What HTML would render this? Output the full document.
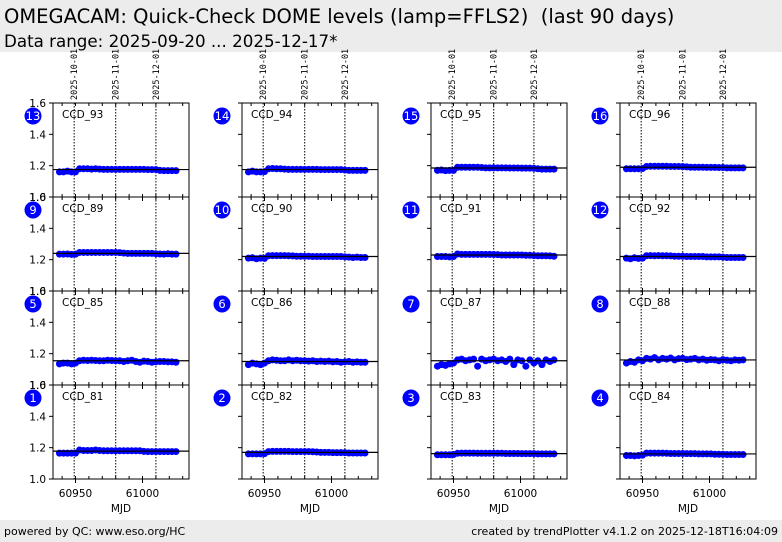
<!DOCTYPE html>
<html><head><meta charset="utf-8"><style>
body{margin:0;width:782px;height:542px;background:#fff;font-family:"DejaVu Sans","Liberation Sans",sans-serif;overflow:hidden;position:relative}
#hdr{position:absolute;left:0;top:0;width:782px;height:52px;background:#ececec}
#ftr{position:absolute;left:0;top:520px;width:782px;height:22px;background:#ececec;font-size:11px}
</style></head><body>
<div id="hdr">
<div style="position:absolute;left:4px;top:5px;font-size:19.5px;white-space:pre">OMEGACAM: Quick-Check DOME levels (lamp=FFLS2)  (last 90 days)</div>
<div style="position:absolute;left:4px;top:31px;font-size:16.7px">Data range: 2025-09-20 ... 2025-12-17*</div>
</div>
<svg id="c" width="782" height="520" style="position:absolute;left:0;top:0;font-family:'DejaVu Sans',sans-serif"></svg>
<div id="ftr">
<span style="position:absolute;left:4px;top:5px">powered by QC: www.eso.org/HC</span>
<span style="position:absolute;right:4px;top:5px">created by trendPlotter v4.1.2 on 2025-12-18T16:04:09</span>
</div>
<script>
const mjdStart=60938, mjdStep=3;
const ccdNames=["CCD_93","CCD_94","CCD_95","CCD_96","CCD_89","CCD_90","CCD_91","CCD_92","CCD_85","CCD_86","CCD_87","CCD_88","CCD_81","CCD_82","CCD_83","CCD_84"];
const panelNums=[13,14,15,16,9,10,11,12,5,6,7,8,1,2,3,4];
const medians=[1.175,1.175,1.185,1.19,1.24,1.22,1.23,1.22,1.155,1.15,1.155,1.16,1.178,1.17,1.162,1.16];
const v93=[1.16,1.16,1.165,1.16,1.16,1.18,1.18,1.18,1.178,1.18,1.178,1.176,1.176,1.176,1.176,1.176,1.176,1.176,1.176,1.176,1.176,1.176,1.175,1.175,1.175,1.17,1.168,1.168,1.168,1.168];
const v94=[1.16,1.165,1.16,1.16,1.162,1.18,1.182,1.18,1.18,1.178,1.176,1.176,1.176,1.176,1.176,1.176,1.176,1.176,1.175,1.175,1.175,1.175,1.175,1.175,1.172,1.17,1.17,1.17,1.17,1.17];
const v95=[1.17,1.172,1.168,1.17,1.17,1.19,1.19,1.19,1.19,1.19,1.19,1.188,1.186,1.186,1.186,1.186,1.186,1.186,1.185,1.185,1.185,1.184,1.184,1.184,1.183,1.18,1.178,1.178,1.178,1.178];
const v96=[1.18,1.18,1.18,1.18,1.182,1.195,1.196,1.196,1.196,1.196,1.196,1.195,1.195,1.195,1.194,1.192,1.19,1.19,1.19,1.19,1.189,1.189,1.189,1.188,1.188,1.186,1.186,1.186,1.186,1.186];
const v89=[1.235,1.235,1.236,1.234,1.235,1.246,1.246,1.246,1.246,1.246,1.246,1.246,1.246,1.246,1.246,1.245,1.242,1.24,1.24,1.24,1.24,1.24,1.24,1.24,1.238,1.236,1.235,1.238,1.235,1.235];
const v90=[1.21,1.212,1.206,1.21,1.208,1.225,1.226,1.226,1.226,1.226,1.225,1.224,1.222,1.222,1.222,1.222,1.22,1.22,1.22,1.22,1.22,1.22,1.22,1.22,1.218,1.216,1.214,1.216,1.214,1.214];
const v91=[1.22,1.22,1.22,1.218,1.22,1.236,1.234,1.234,1.234,1.234,1.234,1.234,1.234,1.234,1.233,1.232,1.23,1.23,1.23,1.23,1.23,1.23,1.228,1.228,1.226,1.225,1.225,1.225,1.224,1.222];
const v92=[1.21,1.206,1.212,1.208,1.21,1.225,1.226,1.225,1.226,1.225,1.225,1.224,1.222,1.222,1.222,1.22,1.22,1.22,1.22,1.22,1.218,1.218,1.218,1.218,1.216,1.214,1.214,1.214,1.214,1.214];
const v85=[1.135,1.14,1.14,1.135,1.14,1.155,1.158,1.156,1.158,1.156,1.155,1.155,1.158,1.156,1.155,1.155,1.15,1.155,1.158,1.15,1.145,1.152,1.15,1.145,1.148,1.15,1.15,1.148,1.148,1.145];
const v86=[1.13,1.14,1.135,1.13,1.14,1.155,1.16,1.158,1.155,1.155,1.16,1.155,1.158,1.155,1.155,1.152,1.155,1.15,1.152,1.15,1.152,1.148,1.15,1.145,1.148,1.15,1.145,1.148,1.145,1.145];
const v87=[1.12,1.13,1.125,1.135,1.14,1.16,1.165,1.155,1.16,1.165,1.12,1.165,1.155,1.16,1.165,1.155,1.16,1.15,1.165,1.13,1.16,1.155,1.12,1.16,1.14,1.155,1.13,1.16,1.15,1.16];
const v88=[1.14,1.15,1.145,1.16,1.155,1.17,1.165,1.175,1.16,1.17,1.165,1.172,1.16,1.168,1.17,1.162,1.165,1.17,1.16,1.165,1.158,1.162,1.16,1.155,1.162,1.158,1.155,1.16,1.158,1.16];
const v81=[1.165,1.165,1.165,1.165,1.165,1.185,1.182,1.182,1.182,1.185,1.182,1.18,1.18,1.18,1.18,1.18,1.18,1.18,1.18,1.18,1.18,1.176,1.175,1.175,1.175,1.175,1.175,1.175,1.175,1.175];
const v82=[1.16,1.16,1.16,1.16,1.162,1.175,1.176,1.176,1.176,1.176,1.176,1.175,1.175,1.175,1.175,1.175,1.174,1.172,1.17,1.17,1.17,1.168,1.168,1.168,1.168,1.166,1.166,1.166,1.166,1.166];
const v83=[1.155,1.155,1.155,1.155,1.156,1.164,1.165,1.165,1.165,1.165,1.164,1.164,1.164,1.164,1.164,1.164,1.164,1.163,1.163,1.163,1.163,1.162,1.162,1.162,1.162,1.16,1.16,1.16,1.16,1.16];
const v84=[1.15,1.15,1.148,1.15,1.152,1.165,1.165,1.165,1.165,1.165,1.164,1.163,1.163,1.163,1.163,1.162,1.162,1.162,1.16,1.16,1.16,1.16,1.158,1.158,1.158,1.156,1.156,1.156,1.156,1.156];
const seriesValues=[v93,v94,v95,v96,v89,v90,v91,v92,v85,v86,v87,v88,v81,v82,v83,v84];
const dateMarks=[60949,60980,61010];
const dateLabels=["2025-10-01","2025-11-01","2025-12-01"];
const xTicks=[60950,61000];
const yTicks=[1.0,1.2,1.4,1.6];

const NS="http://www.w3.org/2000/svg";
const svg=document.getElementById('c');
const colL=[53,242,431,620], rowT=[103,197,291,385], PW=136, PH=94;
const xMin=60933.2, xMax=61034.7, yMin=1.0, yMax=1.6;
function mk(t,a,p){const e=document.createElementNS(NS,t);for(const k in a)e.setAttribute(k,a[k]);(p||svg).appendChild(e);return e;}
for(let i=0;i<16;i++){
  const c=i%4, r=Math.floor(i/4), L=colL[c], T=rowT[r];
  const xs=m=>L+(m-xMin)/(xMax-xMin)*PW;
  const ys=v=>T+PH-(v-yMin)/(yMax-yMin)*PH;
  const g=mk('g',{});
  
  
  dateMarks.forEach((m,k)=>{
    const ln=mk('line',{x1:xs(m),x2:xs(m),y1:T,y2:T+PH,stroke:'#000','stroke-width':1,'stroke-dasharray':'1.5,1.5'},g);
    
    
    if(r===0){
      const tx=mk('text',{x:0,y:0,'font-size':8.5,'font-family':'DejaVu Sans Mono,Liberation Mono,monospace',transform:`translate(${xs(m)+3},${T-3}) rotate(-90)`},g);
      tx.textContent=dateLabels[k];
      
      
    }
  });
  for(let m=60940;m<=61030;m+=10){
    mk('line',{x1:xs(m),x2:xs(m),y1:T+PH,y2:T+PH-3,stroke:'#000'},g);
    mk('line',{x1:xs(m),x2:xs(m),y1:T,y2:T+3,stroke:'#000'},g);
  }
  const vals=seriesValues[i];
  vals.forEach((v,j)=>{
    const d=mk('circle',{cx:xs(mjdStart+j*mjdStep),cy:ys(v),r:3.5,fill:'#0000ff'},g);
    
    
  });
  const med=mk('line',{x1:L,x2:L+PW,y1:ys(medians[i]),y2:ys(medians[i]),stroke:'#000','stroke-width':1.2},g);
  
  
  mk('rect',{x:L,y:T,width:PW,height:PH,fill:'none',stroke:'#000','stroke-width':1},g);
  yTicks.forEach(t=>{
    mk('line',{x1:L-4,x2:L,y1:ys(t),y2:ys(t),stroke:'#000'},g);
    if(c===0){
      const tx=mk('text',{x:L-7,y:ys(t)+4,'font-size':10.5,'text-anchor':'end'},g);
      tx.textContent=t.toFixed(1);
      
      
    }
  });
  xTicks.forEach(t=>{
    mk('line',{x1:xs(t),x2:xs(t),y1:T+PH,y2:T+PH+4,stroke:'#000'},g);
    if(r===3){
      const tx=mk('text',{x:xs(t),y:T+PH+18,'font-size':10.5,'text-anchor':'middle'},g);
      tx.textContent=t;
      
      
    }
  });
  if(r===3){
    const tx=mk('text',{x:L+PW/2,y:T+PH+33,'font-size':10.5,'text-anchor':'middle'},g);
    tx.textContent='MJD';
    
    
  }
  const nm=mk('text',{x:L+9,y:T+15,'font-size':10.5},g);
  nm.textContent=ccdNames[i];
  
  
  const bc=mk('circle',{cx:L-20,cy:T+13,r:8.5,fill:'#0000ff'},g);
  
  
  const bt=mk('text',{x:L-20,y:T+17,'font-size':11.5,'text-anchor':'middle',fill:'#fff'},g);
  bt.textContent=panelNums[i];
  
  
}
</script>
</body></html>
